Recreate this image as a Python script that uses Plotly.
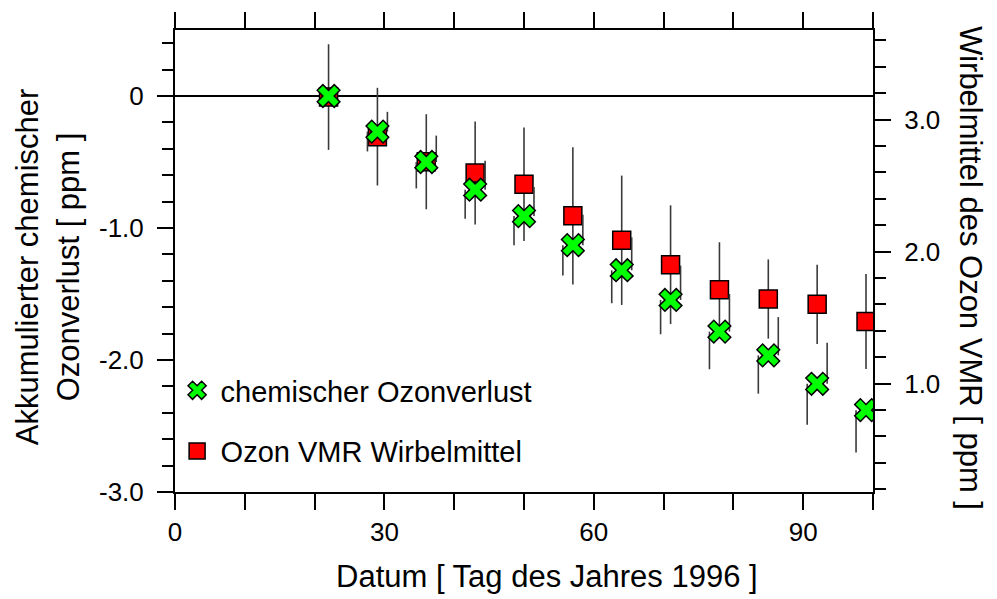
import plotly.graph_objects as go

# ---- data ----
days = [22, 29, 36, 43, 50, 57, 64, 71, 78, 85, 92, 99]

# chemischer Ozonverlust (left axis, ppm)
loss = [0.0, -0.27, -0.50, -0.71, -0.91, -1.13, -1.32, -1.545, -1.785, -1.965, -2.18, -2.38]
loss_err = [0.0, 0.15, 0.20, 0.22, 0.22, 0.23, 0.25, 0.26, 0.285, 0.29, 0.31, 0.32]

# Ozon VMR Wirbelmittel (right axis, ppm)
vmr = [3.17, 2.87, 2.68, 2.595, 2.51, 2.27, 2.085, 1.90, 1.71, 1.64, 1.60, 1.47]
vmr_err = [0.40, 0.37, 0.36, 0.39, 0.43, 0.52, 0.49, 0.45, 0.36, 0.30, 0.30, 0.36]

x_ticks = [0, 30, 60, 90]
left_ticks = [0, -1, -2, -3]
left_ticktext = ["0", "-1.0", "-2.0", "-3.0"]
right_ticks = [1, 2, 3]
right_ticktext = ["1.0", "2.0", "3.0"]

FONT = "Liberation Sans, Arial, sans-serif"
TICK_SIZE = 26
TITLE_SIZE = 31
ERR_COLOR = "#3a3a3a"
BAR_SHIFT = 1.43  # horizontal offset of the split error bars of the X symbols (days)

fig = go.Figure()

# red squares (right axis) - main y axis
fig.add_trace(go.Scatter(
    x=days, y=vmr, mode="markers", name="Ozon VMR Wirbelmittel",
    yaxis="y", legendrank=2, legendgroup="b",
    marker=dict(symbol="square", size=18, color="#ff0000",
                line=dict(color="black", width=1.5)),
    error_y=dict(type="data", array=vmr_err, color=ERR_COLOR, thickness=1.6, width=0),
))

# green error bars (upper half shifted right, lower half shifted left)
fig.add_trace(go.Scatter(
    x=[d + BAR_SHIFT for d in days], y=loss, mode="markers", yaxis="y2",
    showlegend=False, hoverinfo="skip",
    marker=dict(size=1, color="rgba(0,0,0,0)"),
    error_y=dict(type="data", symmetric=False, array=loss_err,
                 arrayminus=[0] * len(loss_err), color=ERR_COLOR, thickness=1.6, width=0),
))
fig.add_trace(go.Scatter(
    x=[d - BAR_SHIFT for d in days], y=loss, mode="markers", yaxis="y2",
    showlegend=False, hoverinfo="skip",
    marker=dict(size=1, color="rgba(0,0,0,0)"),
    error_y=dict(type="data", symmetric=False, array=[0] * len(loss_err),
                 arrayminus=loss_err, color=ERR_COLOR, thickness=1.6, width=0),
))

# green X (left axis)
fig.add_trace(go.Scatter(
    x=days, y=loss, mode="markers", name="chemischer Ozonverlust",
    yaxis="y2", legendrank=1, legendgroup="a",
    marker=dict(symbol="x", size=20, color="#00ff00",
                line=dict(color="black", width=1.5)),
))

axis_common = dict(
    showgrid=False, zeroline=False, showline=True, linecolor="black", linewidth=2,
    ticks="outside", tickcolor="black", tickwidth=2, ticklen=16,
    tickfont=dict(family=FONT, size=TICK_SIZE, color="black"),
)

fig.update_layout(
    width=997, height=599,
    margin=dict(l=175, r=124, t=26, b=107),
    paper_bgcolor="white", plot_bgcolor="white",
    font=dict(family=FONT, color="black"),
    xaxis=dict(range=[0, 100], tickvals=x_ticks, mirror="allticks",
               minor=dict(dtick=10, tick0=0, ticks="outside", ticklen=11,
                          tickcolor="black", tickwidth=2),
               **axis_common),
    yaxis=dict(range=[0.178, 3.678], side="right", tickvals=right_ticks,
               ticktext=right_ticktext, ticklabelstandoff=8,
               minor=dict(dtick=0.2, tick0=0, ticks="outside", ticklen=11,
                          tickcolor="black", tickwidth=2),
               **axis_common),
    yaxis2=dict(range=[-3.0, 0.5], side="left", overlaying="y", tickvals=left_ticks,
                ticktext=left_ticktext, ticklabelstandoff=8,
                minor=dict(dtick=0.2, tick0=0, ticks="outside", ticklen=11,
                           tickcolor="black", tickwidth=2),
                **axis_common),
    showlegend=True,
    legend=dict(x=-0.002, y=0.275, xanchor="left", yanchor="top",
                bgcolor="rgba(0,0,0,0)", borderwidth=0, itemwidth=37,
                font=dict(family=FONT, size=29, color="black"),
                tracegroupgap=20, itemsizing="trace"),
    shapes=[dict(type="line", xref="paper", x0=0, x1=1, yref="y2", y0=0, y1=0,
                 line=dict(color="black", width=2), layer="below")],
    annotations=[
        dict(text="Datum [ Tag des Jahres 1996 ]", xref="paper", yref="paper",
             x=0.533, y=-0.183, xanchor="center", yanchor="middle", showarrow=False,
             font=dict(family=FONT, size=TITLE_SIZE, color="black")),
        dict(text="Akkumulierter chemischer<br>Ozonverlust [ ppm ]", xref="paper",
             yref="paper", x=-0.183, y=0.487, xanchor="center", yanchor="middle",
             textangle=-90, showarrow=False, align="center",
             font=dict(family=FONT, size=TITLE_SIZE, color="black")),
        dict(text="Wirbelmittel des Ozon VMR [ ppm ]", xref="paper", yref="paper",
             x=1.139, y=0.485, xanchor="center", yanchor="middle", textangle=90,
             showarrow=False, font=dict(family=FONT, size=TITLE_SIZE, color="black")),
    ],
)

fig.write_html("out.html")
